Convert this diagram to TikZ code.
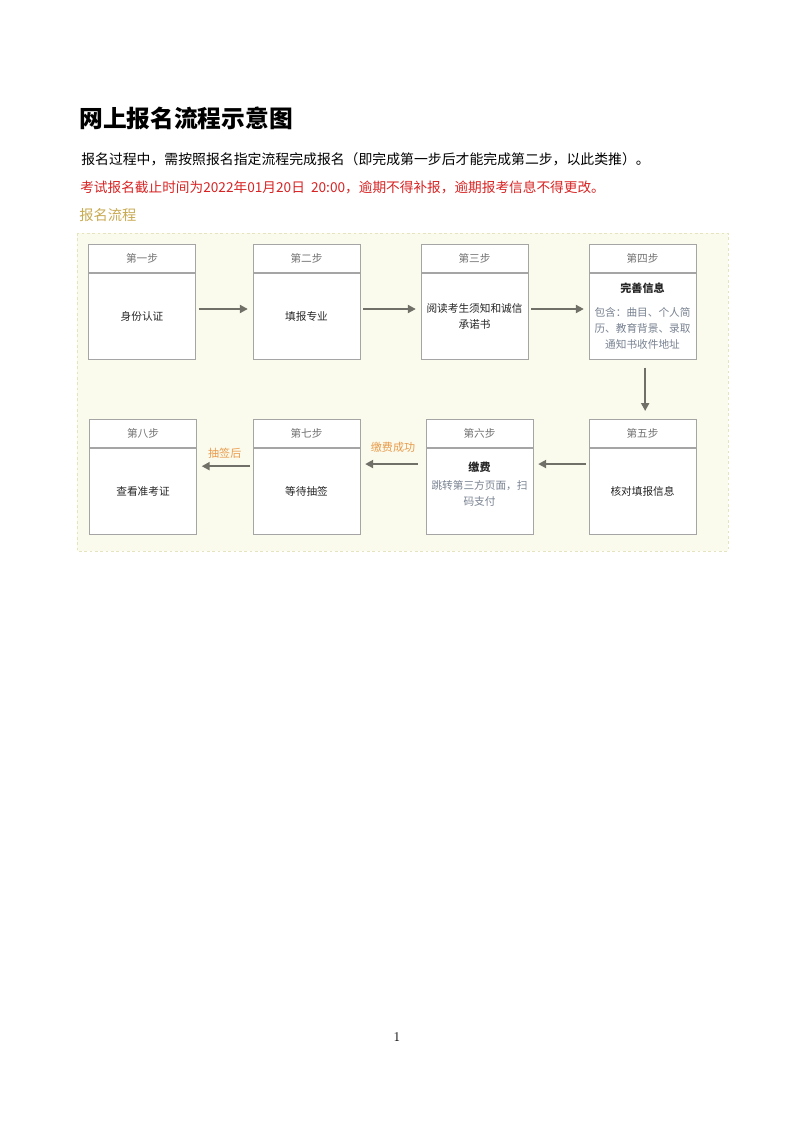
\documentclass[tikz,border=0pt]{standalone}
\usepackage{fontspec}
\usepackage{tikz}
\usetikzlibrary{positioning,arrows.meta}
\newfontfamily\cjk{Noto Sans CJK SC}
\definecolor{boxgray}{RGB}{165,165,165}
\definecolor{headgray}{RGB}{115,115,115}
\definecolor{notegray}{RGB}{120,130,145}
\definecolor{arrowgray}{RGB}{112,112,104}
\definecolor{panelfill}{RGB}{251,251,237}
\definecolor{panelline}{RGB}{230,228,190}
\definecolor{goldtext}{RGB}{200,170,82}
\definecolor{orangetext}{RGB}{232,155,75}
\definecolor{redtext}{RGB}{215,35,35}

\begin{document}
\begin{tikzpicture}[x=0.75pt, y=-0.75pt,
    every node/.style={font=\cjk\fontsize{8}{12}\selectfont},
    txt/.style={anchor=west, inner sep=0pt},
    head/.style={draw=boxgray, fill=white, line width=0.75pt, minimum width=80.25pt,
      minimum height=21pt, inner sep=0pt, text=headgray},
    body/.style={draw=boxgray, fill=white, line width=0.75pt, minimum width=80.25pt,
      minimum height=64.5pt, inner sep=0pt, text width=76pt, align=center, text=black!85},
    link/.style={-{Triangle[length=6pt,width=6pt]}, line width=1.5pt, draw=arrowgray,
      shorten <=2pt, shorten >=3.5pt},
    tag/.style={text=orangetext, font=\cjk\fontsize{8.3}{10}\selectfont, inner sep=1pt}]
  \useasboundingbox (0,0) rectangle (794,1123);
  \node[txt, font=\cjk\bfseries\fontsize{17.8}{22}\selectfont] (title) at (79,118) {网上报名流程示意图};
  \node[txt, font=\cjk\fontsize{10.4}{13}\selectfont] (intro) at (81,159)
    {报名过程中，需按照报名指定流程完成报名（即完成第一步后才能完成第二步，以此类推）。};
  \node[txt, font=\cjk\fontsize{10.25}{13}\selectfont, text=redtext] (deadline) at (80,187)
    {考试报名截止时间为2022年01月20日\ \ 20:00，逾期不得补报，逾期报考信息不得更改。};
  \node[txt, font=\cjk\fontsize{10.7}{13}\selectfont, text=goldtext] (section) at (79,215) {报名流程};
  \draw[fill=panelfill, draw=panelline, dash pattern=on 2pt off 2pt] (77,233) rectangle (728,551);

  \node[head] (h1) at (142,258) {第一步};
  \node[body, below=0pt of h1] (b1) {身份认证};
  \node[head] (h2) at (306.5,258) {第二步};
  \node[body, below=0pt of h2] (b2) {填报专业};
  \node[head] (h3) at (474.5,258) {第三步};
  \node[body, below=0pt of h3] (b3) {阅读考生须知和诚信\\承诺书};
  \node[head] (h4) at (642.5,258) {第四步};
  \node[body, below=0pt of h4] (b4) {{\fontsize{8.3}{12}\selectfont\bfseries 完善信息}\\[6pt]
    {\color{notegray}包含：曲目、个人简\\历、教育背景、录取\\通知书收件地址}};

  \node[head] (h5) at (642.5,433.5) {第五步};
  \node[body, below=0pt of h5] (b5) {核对填报信息};
  \node[head] (h6) at (479.5,433.5) {第六步};
  \node[body, below=0pt of h6] (b6) {{\fontsize{8.3}{12}\selectfont\bfseries 缴费}\\[1.5pt]
    {\color{notegray}跳转第三方页面，扫\\码支付}\\\mbox{}};
  \node[head] (h7) at (306.5,433.5) {第七步};
  \node[body, below=0pt of h7] (b7) {等待抽签};
  \node[head] (h8) at (143,433.5) {第八步};
  \node[body, below=0pt of h8] (b8) {查看准考证};

  \draw[link] ([yshift=5.25pt]b1.east) -- ([yshift=5.25pt]b2.west);
  \draw[link] ([yshift=5.25pt]b2.east) -- ([yshift=5.25pt]b3.west);
  \draw[link] ([yshift=5.25pt]b3.east) -- ([yshift=5.25pt]b4.west);
  \draw[link, shorten <=6pt, shorten >=6pt] ([xshift=2pt]b4.south) -- ([xshift=2pt]h5.north);
  \draw[link] ([yshift=20.6pt]b5.west) -- ([yshift=20.6pt]b6.east);
  \draw[link, shorten <=6pt] ([yshift=20.6pt]b6.west) -- ([yshift=20.6pt]b7.east)
    node[tag, midway, above=7pt] {缴费成功};
  \draw[link] ([yshift=19pt]b7.west) -- ([yshift=19pt]b8.east)
    node[tag, midway, above=4pt] {抽签后};

  \node[font=\normalfont\fontsize{10}{12}\selectfont] (pagenum) at (397,1037) {1};
\end{tikzpicture}
\end{document}
